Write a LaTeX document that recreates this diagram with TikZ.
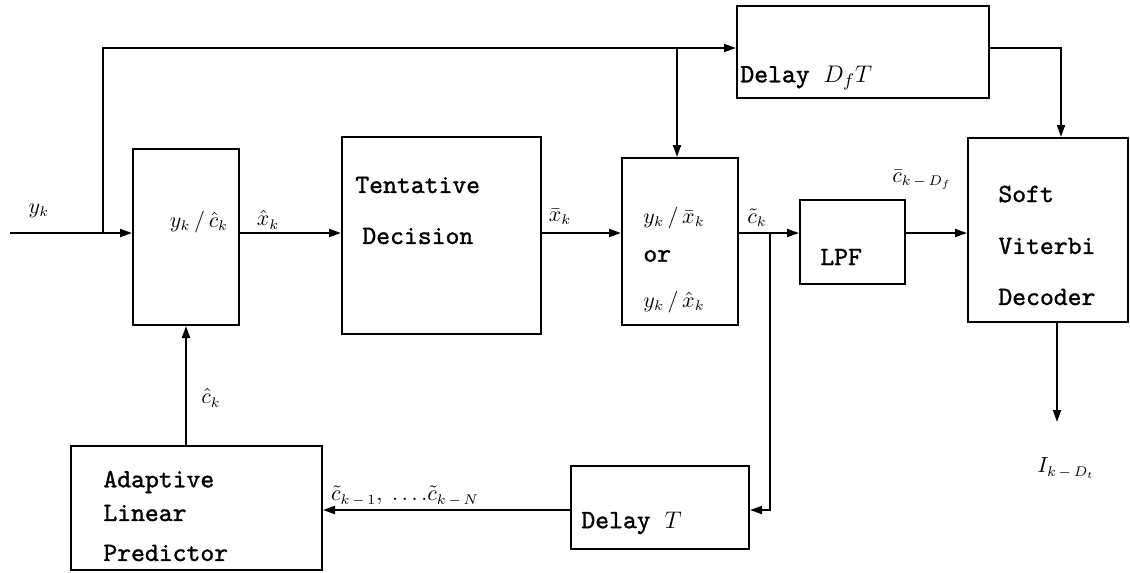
\documentclass[tikz,border=0pt]{standalone}
\usepackage{fontspec}
\newfontfamily\boxfont{lmmono10-regular.otf}[FakeBold=1.2]
\usetikzlibrary{arrows.meta,positioning}
\begin{document}
\begin{tikzpicture}[x=0.5pt,y=-0.5pt,
	box/.style={draw, line width=1pt, inner sep=0pt},
	txt/.style={font=\fontsize{13.2}{16}\selectfont\boxfont, anchor=west, inner sep=0pt},
	lbl/.style={font=\fontsize{10.5}{12}\selectfont, inner sep=0pt},
	arr/.style={-{Triangle[length=6pt,width=4pt]}, line width=1pt}
]
	\useasboundingbox (0,0) rectangle (1130,573);
	% blocks
	\node[box, minimum width=53pt, minimum height=88pt] (div) at (186,237) {};
	\node[box, minimum width=99.5pt, minimum height=98.5pt] (dec) at (441.5,235.5) {};
	\node[box, minimum width=58pt, minimum height=83.5pt] (ratio) at (680,241.5) {};
	\node[box, minimum width=52.5pt, minimum height=42pt] (lpf) at (852.5,242) {};
	\node[box, minimum width=80pt, minimum height=92pt] (vit) at (1048,230) {};
	\node[box, minimum width=126pt, minimum height=46pt] (dlyf) at (863,52) {};
	\node[box, minimum width=89pt, minimum height=41.5pt] (dlyt) at (660,507.5) {};
	\node[box, minimum width=125.5pt, minimum height=62pt] (pred) at (196.5,508) {};

	% block texts
	\node[lbl] (divtxt) at (199,222) {$y_k\,/\,\hat{c}_k$};
	\node[txt] (dec1) at (355,185) {Tentative};
	\node[txt] (dec2) at (362,236) {Decision};
	\node[lbl, anchor=west] (rat1) at (643,218) {$y_k\,/\,\bar{x}_k$};
	\node[txt] (rat2) at (643,256) {or};
	\node[lbl, anchor=west] (rat3) at (643,302) {$y_k\,/\,\hat{x}_k$};
	\node[txt] (lpftxt) at (820,257) {LPF};
	\node[txt] (vit1) at (998,194) {Soft};
	\node[txt] (vit2) at (998,246) {Viterbi};
	\node[txt] (vit3) at (998,297) {Decoder};
	\node[txt] (dlyftxt) at (740,78) {Delay $D_fT$};
	\node[txt] (dlyttxt) at (581,523) {Delay $T$};
	\node[txt] (pred1) at (103,482) {Adaptive};
	\node[txt] (pred2) at (103,513) {Linear};
	\node[txt] (pred3) at (103,553) {Predictor};

	% signal path
	\coordinate (in) at (10,233);
	\coordinate (br1) at (103,233);
	\coordinate (top) at (103,48);
	\coordinate (tap) at (677,48);
	\coordinate (vt) at (1061,48);
	\coordinate (br2) at (770,233);
	\coordinate (fb) at (770,510);
	\coordinate (out) at (1057,422);

	\draw[arr] (in) -- (in -| div.west);
	\draw[arr] (br1) -- (top) -- (top -| dlyf.west);
	\draw[arr] (tap) -- (tap |- ratio.north);
	\draw[arr] (top -| dlyf.east) -- (vt) -- (vt |- vit.north);
	\draw[arr] (in -| div.east) -- (in -| dec.west);
	\draw[arr] (in -| dec.east) -- (in -| ratio.west);
	\draw[arr] (in -| ratio.east) -- (in -| lpf.west);
	\draw[arr] (br2) -- (fb) -- (fb -| dlyt.east);
	\draw[arr] (fb -| dlyt.west) -- (fb -| pred.east);
	\draw[arr] (div.south |- pred.north) -- (div.south);
	\draw[arr] (in -| lpf.east) -- (in -| vit.west);
	\draw[arr] (out |- vit.south) -- (out);

	% signal labels
	\node[lbl] (yk) at (39,211) {$y_k$};
	\node[lbl] (xhat) at (268,220) {$\hat{x}_k$};
	\node[lbl] (xbar) at (560,217) {$\bar{x}_k$};
	\node[lbl] (ctil) at (757,218) {$\tilde{c}_k$};
	\node[lbl] (cbar) at (922,180) {$\bar{c}_{k\,-\,D_f}$};
	\node[lbl] (chat) at (211,398) {$\hat{c}_k$};
	\node[lbl] (cpast) at (405,496) {$\tilde{c}_{k\,-\,1},\;\ldots.\tilde{c}_{k\,-\,N}$};
	\node[lbl] (ik) at (1066,468) {$I_{k\,-\,D_t}$};
\end{tikzpicture}
\end{document}
